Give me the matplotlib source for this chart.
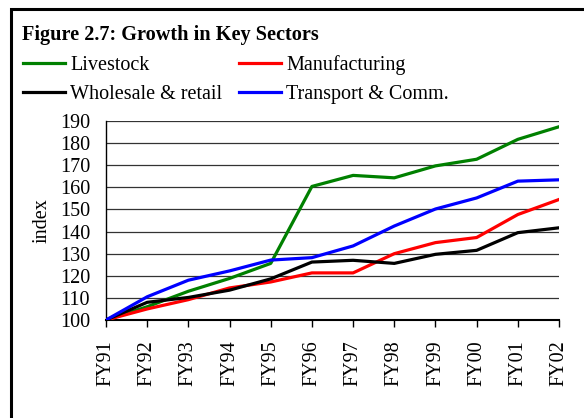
import matplotlib
matplotlib.use("Agg")
import matplotlib.pyplot as plt
from matplotlib.patches import Rectangle

years = ["FY91", "FY92", "FY93", "FY94", "FY95", "FY96", "FY97", "FY98", "FY99", "FY00", "FY01", "FY02"]
livestock = [100, 106, 113, 118.8, 125.6, 160.4, 165.4, 164.3, 169.7, 172.7, 181.7, 187.4]
manufacturing = [100, 105, 109.2, 114.5, 117.2, 121.3, 121.3, 130, 135, 137.3, 147.7, 154.5]
wholesale = [100, 108, 110.2, 113.5, 118.6, 126.2, 127, 125.6, 129.7, 131.5, 139.5, 141.7]
transport = [100, 110.5, 118, 122.2, 127.1, 128.2, 133.5, 142.5, 150.2, 155.2, 162.8, 163.4]
yticks = list(range(100, 191, 10))

plt.rcParams['font.family'] = ['Liberation Serif', 'DejaVu Serif']

W, H = 584, 418
FS = 14.5
fig = plt.figure(figsize=(W / 100, H / 100), dpi=100)

# outer frame
fig.patches.append(Rectangle((10.5 / W, -0.1), 1.2, 1.1 - 9.5 / H, transform=fig.transFigure,
                             fill=False, edgecolor='black', linewidth=2.2, zorder=0))

ax = fig.add_axes([106 / W, 1 - 320 / H, (559 - 106) / W, (320 - 121) / H])
x = range(len(years))
lw = 2.3
ax.plot(x, livestock, color='#008000', lw=lw, label='Livestock', zorder=3)
ax.plot(x, manufacturing, color='#ff0000', lw=lw, label='Manufacturing', zorder=3)
ax.plot(x, wholesale, color='black', lw=lw, label='Wholesale & retail', zorder=3)
ax.plot(x, transport, color='#0000ff', lw=lw, label='Transport & Comm.', zorder=3)

ax.set_xlim(0, len(years) - 1)
ax.set_ylim(100, 190)
ax.set_yticks(yticks)
ax.set_yticklabels([str(v) for v in yticks], fontsize=FS)
ax.set_xticks(list(x))
ax.set_xticklabels(years, rotation=90, fontsize=FS)
ax.tick_params(axis='y', length=0, pad=11.5)
ax.tick_params(axis='x', length=5, width=1, direction='out', pad=9.5)
ax.grid(axis='y', color='#333333', lw=0.9)
ax.set_axisbelow(True)
for s in ['top', 'right']:
    ax.spines[s].set_visible(False)
ax.spines['left'].set_linewidth(1.0)
ax.spines['bottom'].set_linewidth(1.5)
ax.set_ylabel('index', fontsize=FS, labelpad=6)

fig.text(22 / W, 1 - 35 / H, 'Figure 2.7: Growth in Key Sectors', fontsize=14.6, fontweight='bold',
         va='center', ha='left')

handles, labels = ax.get_legend_handles_labels()
order = [0, 2, 1, 3]
leg = fig.legend([handles[i] for i in order], [labels[i] for i in order], ncol=2,
                 loc='upper left', bbox_to_anchor=(15 / W, 1 - 47 / H), frameon=False,
                 fontsize=FS, handlelength=2.1, handletextpad=0.25, columnspacing=0.8,
                 labelspacing=0.5, borderaxespad=0)

fig.savefig('out.png', dpi=100)
